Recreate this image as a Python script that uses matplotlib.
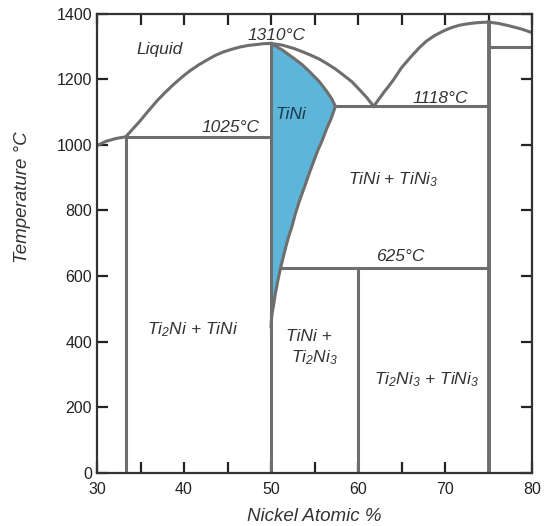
import matplotlib
matplotlib.use('Agg')
import matplotlib.pyplot as plt
from matplotlib.ticker import MultipleLocator

plt.rcParams['font.family'] = ['Liberation Sans', 'DejaVu Sans']
plt.rcParams['mathtext.fontset'] = 'custom'
plt.rcParams['mathtext.rm'] = 'Liberation Sans:italic'
plt.rcParams['mathtext.it'] = 'Liberation Sans:italic'

# liquidus, Ti-rich side (Ni at.%, deg C)
liq_left_x = [30, 31, 32.2, 33.3, 34.9, 35.9, 36.9, 37.85, 38.8, 39.75, 40.7, 41.65,
              42.6, 43.55, 44.5, 45.45, 46.4, 47.4, 48.4, 49.2, 50]
liq_left_t = [998, 1011, 1020, 1025, 1072, 1104, 1135, 1161, 1185, 1207, 1227, 1244,
              1259, 1273, 1284, 1292, 1299, 1304, 1307, 1309.5, 1310]

# liquidus from TiNi maximum down to the eutectic
liq_mid_x = [50, 51.3, 52.6, 53.5, 54.5, 55.5, 56.4, 57.4, 58.3, 59.3, 60.2, 61.0, 61.8]
liq_mid_t = [1310, 1305, 1295, 1286, 1275, 1263, 1249, 1232, 1214, 1193, 1168, 1145, 1118]

# liquidus over TiNi3
liq_right_x = [61.8, 62.4, 63.0, 63.6, 64.1, 65.0, 66.0, 67.0, 67.9, 68.8, 69.8, 70.7,
               71.7, 72.6, 73.5, 74.3, 75, 76.2, 77.5, 78.8, 80]
liq_right_t = [1118, 1140, 1162, 1182, 1200, 1236, 1267, 1296, 1318, 1334, 1348, 1358,
               1366, 1370, 1373, 1374.5, 1375, 1371, 1363, 1354, 1343]

# TiNi single-phase field, Ni-rich boundary
tini_top_x = [50, 51.3, 52.6, 53.6, 54.5, 55.5, 56.4, 57.0, 57.4]
tini_top_t = [1310, 1290, 1265, 1245, 1222, 1195, 1164, 1140, 1118]
tini_low_x = [57.4, 56.9, 56.4, 55.9, 55.4, 54.9, 54.4, 53.85, 53.3, 52.8, 52.4, 52.0,
              51.7, 51.4, 51.1, 50.8, 50.5, 50.3, 50.13, 50.04, 50]
tini_low_t = [1118, 1080, 1050, 1015, 985, 950, 914, 872, 832, 790, 751, 718,
              689, 657, 625, 588, 547, 512, 486, 465, 445]

# invariant temperatures and compound compositions
t_peak = 1310
t_eut1 = 1025
t_eut2 = 1118
t_peri = 625
t_ni3 = 1300
x_ti2ni = 33.3
x_tini = 50
x_ti2ni3 = 60
x_tini3 = 75

fig = plt.figure(figsize=(5.46, 5.26), dpi=100)
ax = fig.add_axes([0.1777, 0.1017, 0.7967, 0.8717])

lc = '#6e6e6e'
lw = 2.2

# TiNi field
fx = [x_tini] + tini_top_x + tini_low_x[1:] + [x_tini]
ft = [t_peak] + tini_top_t + tini_low_t[1:] + [t_peak]
ax.fill(fx, ft, color='#5db6da', zorder=1)
ax.plot(tini_top_x, tini_top_t, color=lc, lw=lw, zorder=2)
ax.plot(tini_low_x, tini_low_t, color=lc, lw=lw, zorder=2)

ax.plot(liq_left_x, liq_left_t, color=lc, lw=lw, zorder=2)
ax.plot(liq_mid_x, liq_mid_t, color=lc, lw=lw, zorder=2)
ax.plot(liq_right_x, liq_right_t, color=lc, lw=lw, zorder=2)

ax.plot([x_ti2ni, x_ti2ni], [0, t_eut1], color=lc, lw=lw, zorder=2)
ax.plot([x_ti2ni, x_tini], [t_eut1, t_eut1], color=lc, lw=lw, zorder=2)
ax.plot([x_tini, x_tini], [0, t_peak], color=lc, lw=lw, zorder=2)
ax.plot([tini_top_x[-1], x_tini3], [t_eut2, t_eut2], color=lc, lw=lw, zorder=2)
ax.plot([tini_low_x[14], x_tini3], [t_peri, t_peri], color=lc, lw=lw, zorder=2)
ax.plot([x_ti2ni3, x_ti2ni3], [0, t_peri], color=lc, lw=lw, zorder=2)
ax.plot([x_tini3, x_tini3], [0, max(liq_right_t)], color=lc, lw=lw + 0.6, zorder=2)
ax.plot([x_tini3, 80], [t_ni3, t_ni3], color=lc, lw=lw, zorder=2)

tc = '#333333'
fs = 12.5
ax.text(37.2, 1293, 'Liquid', style='italic', fontsize=fs, color=tc, ha='center', va='center')
ax.text(50.6, 1333, '1310°C', style='italic', fontsize=fs, color=tc, ha='center', va='center')
ax.text(52.3, 1092, 'TiNi', style='italic', fontsize=fs, color='#1d3a4a', ha='center', va='center')
ax.text(69.5, 1142, '1118°C', style='italic', fontsize=fs, color=tc, ha='center', va='center')
ax.text(45.3, 1054, '1025°C', style='italic', fontsize=fs, color=tc, ha='center', va='center')
ax.text(64.0, 895, r'TiNi + TiNi$_3$', style='italic', fontsize=fs, color=tc, ha='center', va='center')
ax.text(64.8, 659, '625°C', style='italic', fontsize=fs, color=tc, ha='center', va='center')
ax.text(41.0, 435, r'Ti$_2$Ni + TiNi', style='italic', fontsize=fs, color=tc, ha='center', va='center')
ax.text(54.4, 414, 'TiNi +', style='italic', fontsize=fs, color=tc, ha='center', va='center')
ax.text(55.0, 350, r'Ti$_2$Ni$_3$', style='italic', fontsize=fs, color=tc, ha='center', va='center')
ax.text(67.9, 283, r'Ti$_2$Ni$_3$ + TiNi$_3$', style='italic', fontsize=fs, color=tc, ha='center', va='center')

ax.set_xlim(30, 80)
ax.set_ylim(0, 1400)
ax.xaxis.set_major_locator(MultipleLocator(10))
ax.xaxis.set_minor_locator(MultipleLocator(5))
ax.yaxis.set_major_locator(MultipleLocator(200))
ax.tick_params(which='both', direction='in', top=True, right=True,
               length=8, width=1.6, color='#222222', labelsize=11.5, labelcolor='#222222')
ax.tick_params(axis='x', pad=7)
for s in ax.spines.values():
    s.set_linewidth(1.6)
    s.set_color('#333333')

ax.set_xlabel('Nickel Atomic %', style='italic', fontsize=13.5, color=tc, labelpad=8)
ax.set_ylabel('Temperature °C', style='italic', fontsize=13.5, color=tc)
ax.yaxis.set_label_coords(-0.152, 0.6)

fig.savefig('out.png', dpi=100)
